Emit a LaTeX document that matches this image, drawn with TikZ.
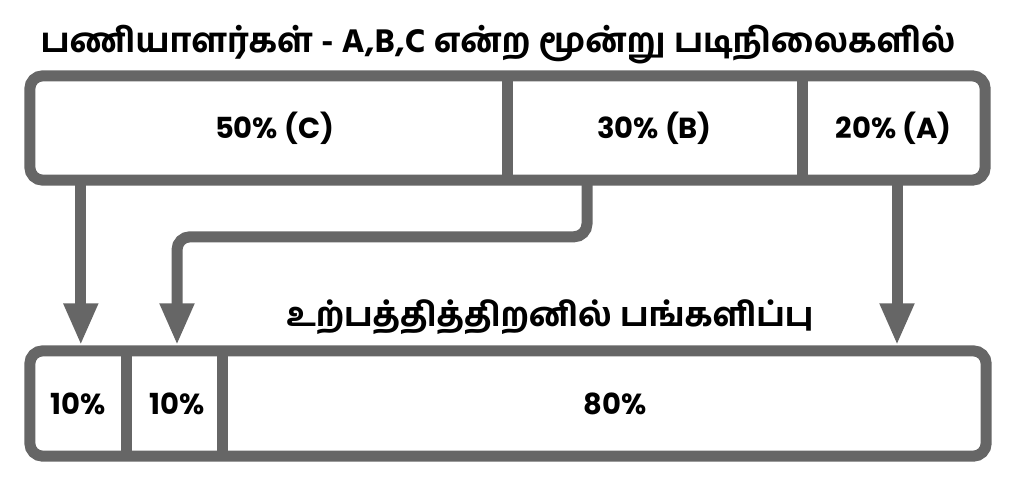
\documentclass[tikz,border=0pt]{standalone}
\usepackage{fontspec}
\newfontfamily\tamil[Script=Tamil, BoldFont={Hind Madurai Bold}]{Hind Madurai}
\newfontfamily\pct{Poppins}
\usetikzlibrary{arrows.meta,calc}
\definecolor{boxgray}{HTML}{666666}
\tikzset{
  frame/.style={draw=boxgray, line width=11pt, rounded corners=13pt},
  divider/.style={draw=boxgray, line width=11pt},
  cell/.style={inner sep=0pt, minimum height=104pt, font=\pct\bfseries\fontsize{29}{32}\selectfont},
  conn/.style={draw=boxgray, line width=11pt, rounded corners=13pt,
    -{Triangle[width=32pt,length=42pt]}, shorten >=5.5pt},
  heading/.style={font=\tamil\bfseries\fontsize{33}{40}\selectfont, inner sep=0pt}
}
\begin{document}
\begin{tikzpicture}[x=1pt,y=-1pt]
\useasboundingbox[fill=white] (0,0) rectangle (1022,489);
% title
\node[heading, font=\tamil\bfseries\fontsize{33.6}{40}\selectfont] (title) at (498,45) {பணியாளர்கள் - A,B,C என்ற மூன்று படிநிலைகளில்};
% top cells
\node[cell, minimum width=477pt] (cellC) at (268.5,128) {\hspace{12pt}50\% (C)};
\node[cell, minimum width=295pt] (cellB) at (654.5,128) {30\% (B)};
\node[cell, minimum width=183pt] (cellA) at (893.5,128) {20\% (A)};
\draw[frame] (cellC.north west) rectangle (cellA.south east);
\draw[divider] (cellC.north east) -- (cellC.south east);
\draw[divider] (cellB.north east) -- (cellB.south east);
% bottom cells
\node[cell, minimum width=96pt, minimum height=105pt] (cellP) at (78,403.5) {10\%};
\node[cell, minimum width=96pt, minimum height=105pt] (cellQ) at (174,403.5) {\hspace{6pt}10\%};
\node[cell, minimum width=764pt, minimum height=105pt] (cellR) at (604,403.5) {\hspace{22pt}80\%};
\draw[frame] (cellP.north west) rectangle (cellR.south east);
\draw[divider] (cellP.north east) -- (cellP.south east);
\draw[divider] (cellQ.north east) -- (cellQ.south east);
% subtitle
\node[heading] (sub) at (550,317) {உற்பத்தித்திறனில் பங்களிப்பு};
% connectors
\draw[conn] ([xshift=51pt]cellC.south west) -- ([xshift=51pt]cellP.north west);
\draw[conn] ([xshift=-67.5pt]cellB.south) |- ($(cellQ.north)+(3,-114)$) -- ([xshift=3pt]cellQ.north);
\draw[conn] ([xshift=3.5pt]cellA.south) -- ([xshift=3.5pt]cellA.south |- cellR.north);
\end{tikzpicture}
\end{document}
